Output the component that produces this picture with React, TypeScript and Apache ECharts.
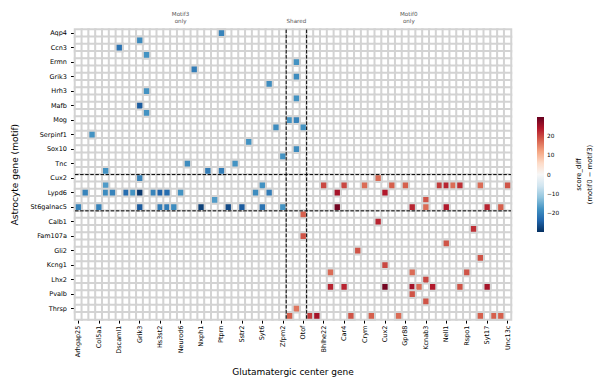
import { useEffect, useRef } from "react";
import * as echarts from "echarts";

// Astrocyte genes (rows), grouped: motif3-only, shared, motif0-only
const astroGenes = [
  "Aqp4", "Bcan", "Ccn3", "Cldn11", "Ermn", "Gfap", "Grik3", "Grin2c", "Hrh3", "Kcnj10",
  "Mafb", "Mbp", "Mog", "Olig2", "Serpinf1", "Slc1a3", "Sox10", "Sox9", "Tnc", "Tnr",
  "Cux2", "Id4", "Lypd6", "Nfia", "St6galnac5",
  "Aldh1l1", "Calb1", "Cdh20", "Fam107a", "Fgfr3", "Gli2", "Gpc5", "Kcng1", "Kcnj16", "Lhx2",
  "Ntsr2", "Pvalb", "Slc6a11", "Thrsp", "Wif1",
];
const astroGroupSizes = [20, 5, 15];

// Glutamatergic center genes (columns), same grouping
const gluGenes = [
  "Arhgap25", "Bcl11b", "Cdh13", "Col5a1", "Cplx3", "Dkk3", "Dscaml1", "Fezf2", "Foxp2", "Grik3",
  "Grp", "Hpcal1", "Hs3st2", "Kcnk2", "Lamp5", "Neurod6", "Nr4a2", "Ntng2", "Nxph1", "Nxph4",
  "Pou3f1", "Ptprn", "Rorb", "Sema3e", "Sstr2", "Stard8", "Syt2", "Syt6", "Tle4", "Tshz2", "Zfpm2",
  "Adamts2", "Lmo4", "Otof",
  "Adcyap1", "Baiap3", "Bhlhe22", "Calb2", "Car3", "Car4", "Cartpt", "Chrna6", "Crym", "Ctgf",
  "Cux1", "Cux2", "Dcn", "Etv1", "Gpr88", "Igfbp4", "Kcnab1", "Kcnab3", "Lmo3", "Myl4",
  "Nell1", "Nnat", "Penk", "Rspo1", "Scnn1a", "Sulf2", "Syt17", "Tcerg1l", "Tox", "Unc13c",
];
const gluGroupSizes = [31, 3, 30];
const gluGroupTitles = ["Motif3\nonly", "Shared", "Motif0\nonly"];

// score_diff = motif0 - motif3 (negative: motif3 stronger)
const motif3Scores: [string, string, number][] = [
  ["Aqp4", "Ptprn", -20], ["Bcan", "Grik3", -19], ["Ccn3", "Dscaml1", -22],
  ["Cldn11", "Grp", -18], ["Ermn", "Lmo4", -18], ["Gfap", "Ntng2", -21],
  ["Grik3", "Lmo4", -19], ["Grin2c", "Tle4", -19], ["Hrh3", "Grp", -18],
  ["Kcnj10", "Lmo4", -18], ["Mafb", "Grik3", -25], ["Mbp", "Grp", -18],
  ["Mog", "Adamts2", -18], ["Mog", "Lmo4", -20], ["Olig2", "Tshz2", -19],
  ["Olig2", "Otof", -18], ["Serpinf1", "Cdh13", -18], ["Slc1a3", "Stard8", -18],
  ["Sox10", "Lmo4", -19], ["Sox9", "Zfpm2", -18], ["Tnc", "Nr4a2", -19],
  ["Tnc", "Sema3e", -18], ["Tnr", "Cplx3", -18], ["Tnr", "Nxph4", -21],
  ["Tnr", "Ptprn", -21], ["Cux2", "Grik3", -20], ["Id4", "Cplx3", -17],
  ["Id4", "Syt6", -18], ["Lypd6", "Bcl11b", -20], ["Lypd6", "Cplx3", -19],
  ["Lypd6", "Dkk3", -20], ["Lypd6", "Fezf2", -23], ["Lypd6", "Foxp2", -18],
  ["Lypd6", "Grik3", -29], ["Lypd6", "Hpcal1", -20], ["Lypd6", "Hs3st2", -24],
  ["Lypd6", "Kcnk2", -23], ["Lypd6", "Neurod6", -18], ["Lypd6", "Syt2", -19],
  ["Lypd6", "Tle4", -21], ["Nfia", "Pou3f1", -17], ["St6galnac5", "Arhgap25", -20],
  ["St6galnac5", "Col5a1", -20], ["St6galnac5", "Grik3", -25], ["St6galnac5", "Hs3st2", -21],
  ["St6galnac5", "Kcnk2", -21], ["St6galnac5", "Lamp5", -19], ["St6galnac5", "Nxph1", -28],
  ["St6galnac5", "Rorb", -27], ["St6galnac5", "Sstr2", -25], ["St6galnac5", "Syt6", -22],
  ["St6galnac5", "Zfpm2", -18],
];

// positive: motif0 stronger
const motif0Scores: [string, string, number][] = [
  ["Cux2", "Cux1", 17], ["Id4", "Bhlhe22", 20], ["Id4", "Car4", 20], ["Id4", "Crym", 17],
  ["Id4", "Dcn", 18], ["Id4", "Gpr88", 18], ["Id4", "Myl4", 21], ["Id4", "Nell1", 23],
  ["Id4", "Nnat", 17], ["Id4", "Penk", 22], ["Id4", "Sulf2", 17], ["Id4", "Unc13c", 19],
  ["Lypd6", "Car3", 25], ["Lypd6", "Cux2", 24], ["Nfia", "Kcnab3", 19],
  ["St6galnac5", "Car3", 29], ["St6galnac5", "Igfbp4", 23], ["St6galnac5", "Kcnab3", 17],
  ["St6galnac5", "Nell1", 24], ["St6galnac5", "Syt17", 23], ["St6galnac5", "Tox", 18],
  ["Aldh1l1", "Otof", 18], ["Calb1", "Cux1", 23], ["Cdh20", "Scnn1a", 22],
  ["Fam107a", "Otof", 19], ["Fgfr3", "Nell1", 19], ["Gli2", "Chrna6", 19],
  ["Gpc5", "Sulf2", 19], ["Kcng1", "Cux2", 20], ["Kcnj16", "Calb2", 17],
  ["Kcnj16", "Igfbp4", 17], ["Kcnj16", "Rspo1", 19], ["Lhx2", "Kcnab3", 20],
  ["Ntsr2", "Calb2", 23], ["Ntsr2", "Car4", 23], ["Ntsr2", "Cux2", 29],
  ["Ntsr2", "Igfbp4", 25], ["Ntsr2", "Kcnab1", 17], ["Ntsr2", "Lmo3", 24],
  ["Ntsr2", "Penk", 19], ["Ntsr2", "Syt17", 25], ["Pvalb", "Igfbp4", 19],
  ["Slc6a11", "Kcnab3", 19], ["Thrsp", "Lmo4", 16], ["Wif1", "Adamts2", 18],
  ["Wif1", "Adcyap1", 21], ["Wif1", "Baiap3", 25], ["Wif1", "Cartpt", 19],
  ["Wif1", "Ctgf", 18], ["Wif1", "Etv1", 17], ["Wif1", "Sulf2", 18],
  ["Wif1", "Tcerg1l", 18], ["Wif1", "Tox", 18],
];

const colorbarTicks = [-20, -10, 0, 10, 20];
const scoreLimit = 30;

// RdBu_r, low to high
const rdBuR = [
  "#053061", "#2166ac", "#4393c3", "#92c5de", "#d1e5f0", "#f7f7f7",
  "#fddbc7", "#f4a582", "#d6604d", "#b2182b", "#67001f",
];

const FONT = "DejaVu Sans";

export default function App() {
  const ref = useRef<HTMLDivElement>(null);

  useEffect(() => {
    const chart = echarts.init(ref.current!, null, { renderer: "svg" });

    const background: number[][] = [];
    astroGenes.forEach((_, r) => gluGenes.forEach((_, c) => background.push([c, r, 0])));
    const scored = [...motif3Scores, ...motif0Scores].map(([a, g, v]) => [
      gluGenes.indexOf(g),
      astroGenes.indexOf(a),
      v,
    ]);

    const fmtTick = (v: number) => (v < 0 ? "\u2212" + Math.abs(v) : String(v));

    chart.setOption({
      animation: false,
      textStyle: { fontFamily: FONT },
      grid: [
        { left: 75, top: 29.6, width: 436, height: 290 },
        { left: 537, top: 117, width: 7, height: 115 },
      ],
      xAxis: [
        {
          type: "category",
          data: gluGenes,
          gridIndex: 0,
          position: "bottom",
          axisLine: { show: false },
          axisTick: { show: true, interval: 2, alignWithLabel: true, length: 4, lineStyle: { color: "#000" } },
          axisLabel: { interval: 2, rotate: 90, fontSize: 6.5, color: "#000", margin: 6, fontFamily: FONT },
          splitLine: { show: false },
          name: "Glutamatergic center gene",
          nameLocation: "middle",
          nameGap: 48,
          nameTextStyle: { fontSize: 9, color: "#000", fontFamily: FONT },
        },
        { type: "value", gridIndex: 1, min: 0, max: 1, show: false },
      ],
      yAxis: [
        {
          type: "category",
          data: astroGenes,
          inverse: true,
          gridIndex: 0,
          axisLine: { show: false },
          axisTick: { show: true, interval: 1, alignWithLabel: true, length: 4, lineStyle: { color: "#000" } },
          axisLabel: { interval: 1, fontSize: 6.5, color: "#000", margin: 8, fontFamily: FONT },
          splitLine: { show: false },
          name: "Astrocyte gene (motif)",
          nameLocation: "middle",
          nameGap: 54,
          nameTextStyle: { fontSize: 9, color: "#000", fontFamily: FONT },
        },
        {
          type: "value",
          gridIndex: 1,
          min: -scoreLimit,
          max: scoreLimit,
          position: "right",
          axisLine: { show: false },
          axisTick: { show: true, length: 2.5, customValues: colorbarTicks, lineStyle: { color: "#000" } },
          axisLabel: {
            customValues: colorbarTicks,
            formatter: fmtTick,
            fontSize: 5.8,
            color: "#000",
            margin: 3,
            fontFamily: FONT,
          },
          splitLine: { show: false },
        },
      ],
      visualMap: [
        {
          type: "continuous",
          show: false,
          min: 0,
          max: 1,
          seriesIndex: 0,
          dimension: 2,
          inRange: { color: ["#ffffff", "#ffffff"] },
        },
        {
          type: "continuous",
          show: false,
          min: -scoreLimit,
          max: scoreLimit,
          seriesIndex: 1,
          dimension: 2,
          inRange: { color: rdBuR },
        },
      ],
      series: [
        {
          type: "heatmap",
          xAxisIndex: 0,
          yAxisIndex: 0,
          data: background,
          silent: true,
          itemStyle: { borderColor: "#d3d3d3", borderWidth: 2 },
        },
        {
          type: "heatmap",
          xAxisIndex: 0,
          yAxisIndex: 0,
          data: scored,
          itemStyle: { borderColor: "#d3d3d3", borderWidth: 2 },
          emphasis: { disabled: true },
        },
        {
          type: "custom",
          xAxisIndex: 1,
          yAxisIndex: 1,
          silent: true,
          data: [[0, -scoreLimit, scoreLimit]],
          renderItem: (_params: any, api: any) => {
            const tl = api.coord([0, api.value(2)]);
            const br = api.coord([1, api.value(1)]);
            return {
              type: "rect",
              shape: { x: tl[0], y: tl[1], width: br[0] - tl[0], height: br[1] - tl[1] },
              style: {
                fill: new echarts.graphic.LinearGradient(
                  0, 0, 0, 1,
                  rdBuR.slice().reverse().map((color, i) => ({ offset: i / (rdBuR.length - 1), color }))
                ),
              },
            };
          },
        },
      ],
    });

    // Group separators and column group titles, placed from the axis scales
    const px = (c: number, r: number) => chart.convertToPixel({ gridIndex: 0 }, [c, r]) as number[];
    const colW = px(1, 0)[0] - px(0, 0)[0];
    const rowH = px(0, 1)[1] - px(0, 0)[1];
    const left = px(0, 0)[0] - colW / 2;
    const right = px(gluGenes.length - 1, 0)[0] + colW / 2;
    const top = px(0, 0)[1] - rowH / 2;
    const bottom = px(0, astroGenes.length - 1)[1] + rowH / 2;
    const dash = { stroke: "#000", lineWidth: 1, lineDash: [3.5, 1.6] };

    const graphics: any[] = [];
    let acc = 0;
    gluGroupSizes.forEach((size, i) => {
      const center = left + (acc + size / 2) * colW;
      graphics.push({
        type: "text",
        z: 50,
        x: center,
        y: top - 5.5,
        style: {
          text: gluGroupTitles[i],
          fontSize: 5.6,
          lineHeight: 7,
          fill: "#555",
          fontFamily: FONT,
          align: "center",
          verticalAlign: "bottom",
        },
      });
      acc += size;
      if (i < gluGroupSizes.length - 1) {
        const x = left + acc * colW;
        graphics.push({ type: "line", z: 50, shape: { x1: x, y1: top, x2: x, y2: bottom }, style: dash });
      }
    });
    acc = 0;
    astroGroupSizes.slice(0, -1).forEach((size) => {
      acc += size;
      const y = top + acc * rowH;
      graphics.push({ type: "line", z: 50, shape: { x1: left, y1: y, x2: right, y2: y }, style: dash });
    });
    graphics.push({
      type: "text",
      z: 50,
      x: 584,
      y: 174.5,
      rotation: Math.PI / 2,
      style: {
        text: "score_diff\n(motif0 \u2212 motif3)",
        fontSize: 6.8,
        lineHeight: 11,
        fill: "#000",
        fontFamily: FONT,
        align: "center",
        verticalAlign: "middle",
      },
    });
    chart.setOption({ graphic: graphics });

    return () => chart.dispose();
  }, []);

  return (
    <div
      ref={ref}
      style={{ position: "fixed", left: 0, top: 0, width: 603, height: 389, background: "#fff" }}
    />
  );
}
